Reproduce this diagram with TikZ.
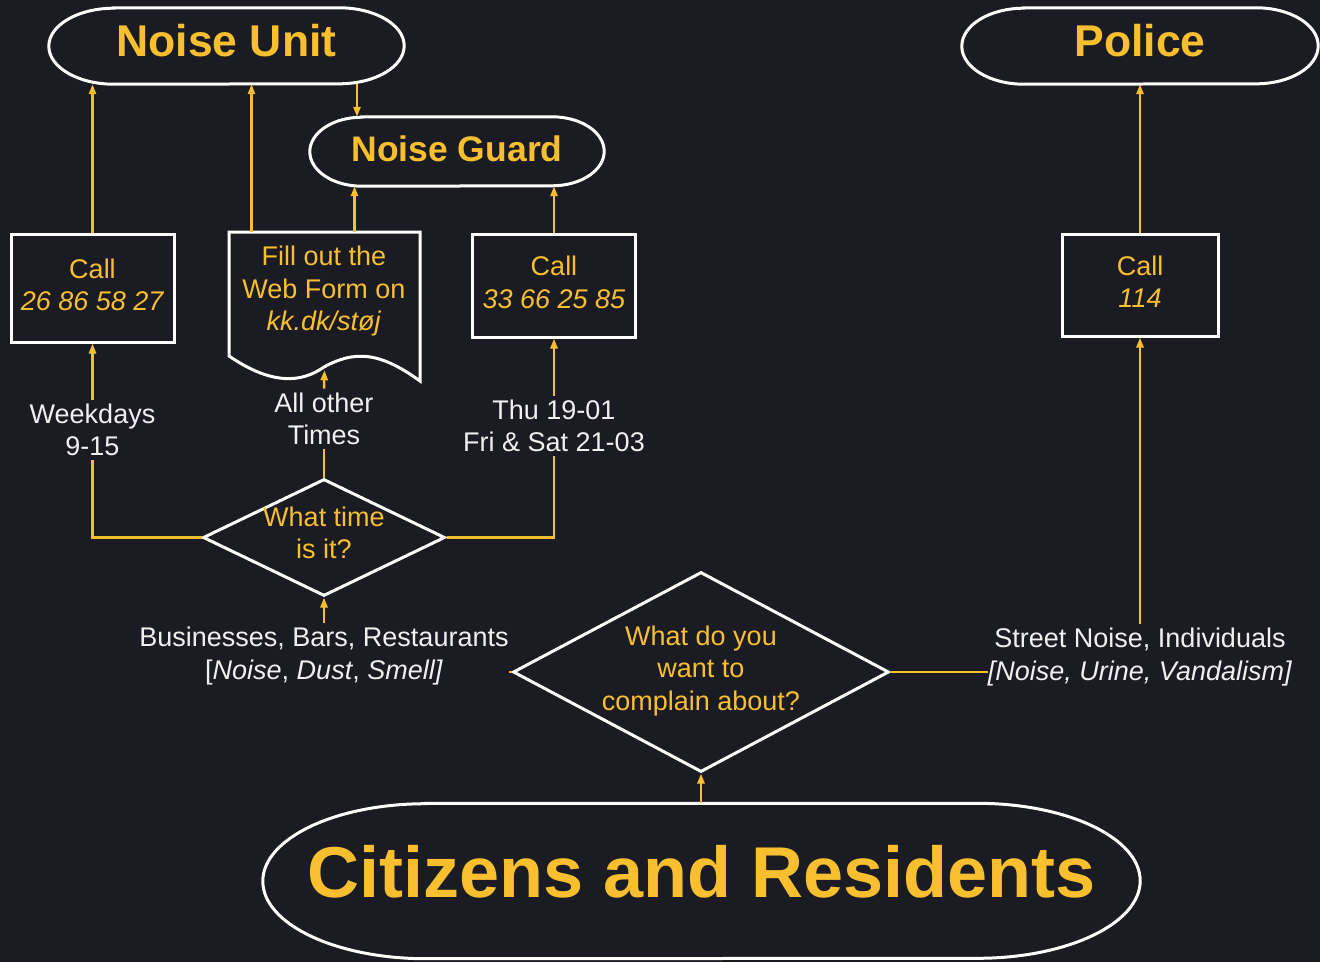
\documentclass[tikz,border=0pt]{standalone}
\usepackage{fontspec}
\setmainfont{Liberation Sans}
\usetikzlibrary{arrows.meta,shapes.geometric}
\definecolor{col_1b1c23}{RGB}{27,28,35}
\definecolor{col_f9bf2f}{RGB}{249,191,47}
\definecolor{col_ffffff}{RGB}{255,255,255}
\definecolor{col_f0f0f0}{RGB}{240,240,240}
\tikzset{
  terminal/.style={rectangle, inner sep=0pt, text=col_f9bf2f},
  callbox/.style={rectangle, draw=col_ffffff, line width=3pt, inner sep=0pt, text=col_f9bf2f, align=center, font=\fontsize{27}{32.5}\selectfont},
  decision/.style={diamond, draw=col_ffffff, line width=3pt, inner sep=0pt},
  qtext/.style={inner sep=0pt, text=col_f9bf2f, align=center, font=\fontsize{27}{32.5}\selectfont},
  cond/.style={inner xsep=0pt, inner ysep=4pt, text=col_f0f0f0, align=center, font=\fontsize{27}{32.5}\selectfont},
  wire/.style={draw=col_f9bf2f, line width=2.5pt},
  flow/.style={wire, -{Triangle[length=10pt,width=7pt]}},
  outline/.style={draw=col_ffffff, line width=3pt},
}
\newcommand{\drawterminal}[3]{%
\draw[outline] ([xshift=#2pt]#1.north west) -- ([xshift=-#2pt]#1.north east) arc[start angle=90, end angle=-90, x radius=#2pt, y radius=#3pt] -- ([xshift=#2pt]#1.south west) arc[start angle=270, end angle=90, x radius=#2pt, y radius=#3pt] -- cycle;
}
\newcommand{\lift}{\rule[-7pt]{0pt}{7pt}}

\begin{document}
\begin{tikzpicture}[x=1pt, y=-1pt]
\fill[col_1b1c23] (0,0) rectangle (1320,962);
\useasboundingbox (0,0) rectangle (1320,962);

%% terminals
\node[terminal, minimum width=355pt, minimum height=76pt, text depth=12pt, font=\bfseries\fontsize{44.5}{44.5}\selectfont] (nu) at (226.5,46) {Noise Unit};
\node[terminal, minimum width=294pt, minimum height=69pt, text depth=6pt, font=\bfseries\fontsize{35.5}{35.5}\selectfont] (ng) at (457,151.5) {Noise Guard};
\node[terminal, minimum width=356pt, minimum height=76pt, text depth=12pt, font=\bfseries\fontsize{44.5}{44.5}\selectfont] (po) at (1140,46) {Police};
\node[terminal, minimum width=877pt, minimum height=155pt, text depth=20pt, font=\bfseries\fontsize{72}{72}\selectfont] (cr) at (701.5,881) {Citizens and Residents};
\drawterminal{nu}{65}{38}
\drawterminal{ng}{52}{34.5}
\drawterminal{po}{62}{38}
\drawterminal{cr}{163}{77.5}

%% call boxes
\node[callbox, minimum width=163pt, minimum height=108pt] (c1) at (92.5,288) {Call\\\textit{26 86 58 27}\lift};
\node[callbox, minimum width=163pt, minimum height=103pt] (c2) at (554,285.5) {Call\\\textit{33 66 25 85}\lift};
\node[callbox, minimum width=156pt, minimum height=102pt] (c3) at (1140,285) {Call\\\textit{114}\lift};

%% web form document
\node[minimum width=191pt, minimum height=148pt, inner sep=0pt] (wf) at (324.5,306) {};
\draw[outline] (229,232) -- (420,232) -- (420,381) .. controls (380,352) and (355,350) .. (324,367) .. controls (300,384) and (270,384) .. (229,356) -- cycle;
\node[qtext] (wftext) at (324,291.5) {Fill out the\\Web Form on\\\textit{kk.dk/støj}};

%% decisions
\node[decision, minimum width=242pt, minimum height=117pt] (dtime) at (324,537.5) {};
\node[qtext] (dtimetext) at (324,533) {What time\\is it?};
\node[decision, minimum width=376pt, minimum height=200pt] (dmain) at (701,672) {};
\node[qtext] (dmaintext) at (701,671) {What do you\\want to\\complain about?};

%% conditions
\node[cond] (lwk) at (92.5,430) {Weekdays\\9-15};
\node[cond] (lall) at (324,419) {All other\\Times};
\node[cond] (lthu) at (554,426) {Thu 19-01\\Fri \& Sat 21-03};
\node[cond] (lbiz) at (324,656) {Businesses, Bars, Restaurants\\{[}\textit{Noise}, \textit{Dust}, \textit{Smell]}};
\node[cond] (lstr) at (1140,657) {Street Noise, Individuals\\\textit{[Noise, Urine, Vandalism]}};

%% connectors
\draw[flow] (dmain.south |- cr.north) -- (dmain.south);
\draw[wire] (dmain.west) -- (dmain.west -| lbiz.east);
\draw[wire] (dmain.east) -- (dmain.east -| lstr.west);
\draw[flow] (lbiz.north) -- (dtime.south);
\draw[flow] (lstr.north) -- (c3.south);
\draw[wire] (dtime.west) -| (lwk.south);
\draw[wire] (dtime.north) -- (lall.south);
\draw[wire] (dtime.east) -| (lthu.south);
\draw[flow] (lwk.north) -- (lwk.north |- c1.south);
\draw[flow] (lall.north) -- ([yshift=10pt]wf.south);
\draw[flow] (lthu.north) -- (lthu.north |- c2.south);
\draw[flow] (c1.north) -- (c1.north |- nu.south);
\draw[flow] ([xshift=-73pt]wf.north) -- ([xshift=-73pt]wf.north |- nu.south);
\draw[flow] ([xshift=30pt]wf.north) -- ([xshift=30pt]wf.north |- ng.south);
\draw[flow] ([xshift=-100pt]ng.north |- nu.south) -- ([xshift=-100pt]ng.north);
\draw[flow] (c2.north) -- (c2.north |- ng.south);
\draw[flow] (c3.north) -- (c3.north |- po.south);
\end{tikzpicture}
\end{document}
